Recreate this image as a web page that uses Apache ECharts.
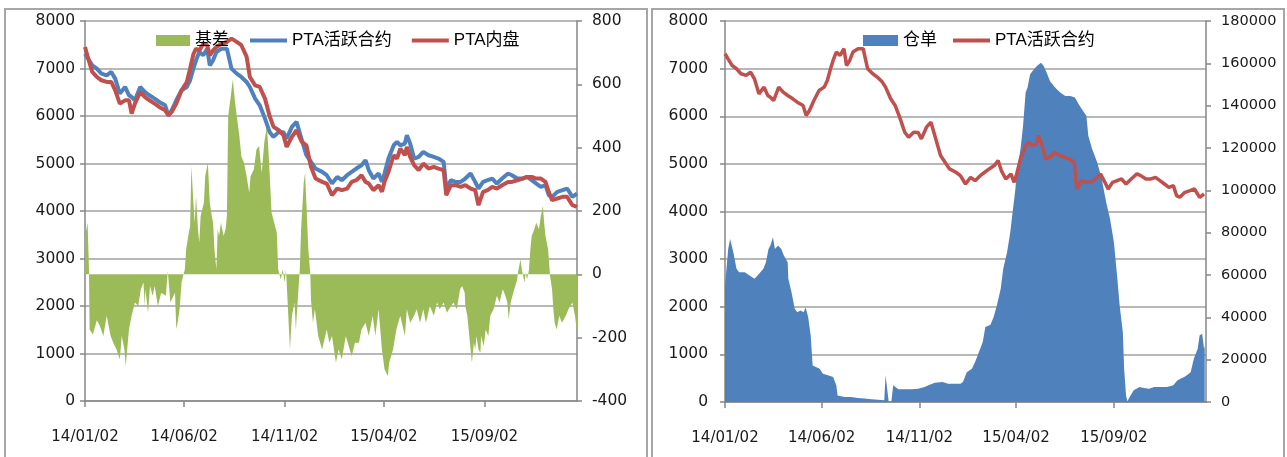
<!DOCTYPE html>
<html><head><meta charset="utf-8">
<script src="https://cdn.jsdelivr.net/npm/echarts@6/dist/echarts.min.js"></script>
<style>html,body{margin:0;padding:0;background:#fff}#c{width:1287px;height:457px}</style>
</head><body><div id="c"></div><script>
// ---------- data ----------
var tickDates = ['2014-01-02','2014-06-02','2014-11-02','2015-04-02','2015-09-02'];
var tickLabels = ['14/01/02','14/06/02','14/11/02','15/04/02','15/09/02'];

var priceDates = [
'2014-01-02','2014-01-07','2014-01-13','2014-01-20','2014-01-27','2014-02-04','2014-02-11','2014-02-17','2014-02-24','2014-03-04',
'2014-03-10','2014-03-14','2014-03-19','2014-03-27','2014-04-03','2014-04-10','2014-04-18','2014-04-25','2014-05-04','2014-05-09',
'2014-05-14','2014-05-21','2014-05-29','2014-06-06','2014-06-11','2014-06-16','2014-06-20','2014-06-25','2014-07-01','2014-07-07',
'2014-07-11','2014-07-16','2014-07-21','2014-07-29','2014-08-06','2014-08-13','2014-08-21','2014-08-28','2014-09-05',
'2014-09-10','2014-09-18','2014-09-25','2014-10-03','2014-10-10','2014-10-16','2014-10-24','2014-10-31','2014-11-05','2014-11-13',
'2014-11-20','2014-11-28','2014-12-05','2014-12-12','2014-12-19','2014-12-29','2015-01-05','2015-01-13','2015-01-21','2015-01-28',
'2015-02-05','2015-02-12','2015-02-19','2015-02-27','2015-03-05','2015-03-10','2015-03-17','2015-03-25','2015-03-30','2015-04-03',
'2015-04-09','2015-04-17','2015-04-22','2015-04-27','2015-05-04','2015-05-07','2015-05-12',
'2015-05-18','2015-05-25','2015-06-01','2015-06-09','2015-06-17','2015-06-24','2015-07-02','2015-07-06','2015-07-13','2015-07-20',
'2015-07-28','2015-08-04','2015-08-12','2015-08-19','2015-08-24','2015-08-31','2015-09-07','2015-09-14','2015-09-21','2015-09-29',
'2015-10-08','2015-10-14','2015-10-22','2015-10-30','2015-11-06','2015-11-13','2015-11-20','2015-11-27','2015-12-04','2015-12-09',
'2015-12-14','2015-12-22','2015-12-30','2016-01-06','2016-01-14','2016-01-21'];

// PTA活跃合约
var futuresValues = [
7312,7200,7067,6997,6892,6857,6927,6787,6471,6611,
6436,6400,6330,6611,6506,6436,6366,6296,6226,6015,
6120,6331,6541,6611,6752,6997,7172,7348,7277,7418,
7067,7172,7348,7418,7418,6997,6892,6822,6717,
6611,6366,6226,5945,5665,5560,5665,5660,5525,5770,
5875,5500,5174,5034,4894,4824,4753,4578,4718,4648,
4753,4824,4894,4964,5069,4859,4683,4789,4613,4789,
5104,5384,5455,5384,5420,5595,5420,
5104,5139,5244,5174,5139,5104,5034,4473,4648,4613,
4613,4683,4789,4613,4473,4613,4648,4683,4578,4683,
4789,4753,4683,4683,4718,4648,4578,4508,4543,4333,
4298,4403,4438,4473,4298,4368];

// PTA内盘
var spotValues = [
7453,7207,6927,6822,6752,6717,6717,6541,6261,6330,
6330,6050,6261,6500,6401,6331,6261,6191,6120,6015,
6085,6261,6541,6717,6997,7300,7418,7380,7523,7490,
7277,7383,7453,7523,7558,7628,7560,7490,7250,
6822,6646,6611,6366,6000,5770,5700,5600,5349,5560,
5700,5455,5384,4929,4683,4613,4578,4333,4473,4438,
4473,4613,4648,4753,4613,4578,4438,4543,4403,4613,
4824,5174,5104,5314,5174,5349,5139,
4964,4859,4999,4894,4929,4894,4859,4333,4543,4543,
4508,4543,4473,4438,4122,4403,4438,4508,4473,4543,
4613,4613,4648,4683,4718,4718,4683,4683,4613,4403,
4228,4263,4298,4298,4122,4087];

// 基差
var basisDates = [
'2014-01-02','2014-01-06','2014-01-08','2014-01-09','2014-01-14','2014-01-17','2014-01-20','2014-01-24','2014-01-30','2014-02-04',
'2014-02-10','2014-02-14','2014-02-19','2014-02-24','2014-02-27','2014-03-03','2014-03-05','2014-03-10','2014-03-14','2014-03-19',
'2014-03-24','2014-03-28','2014-04-01','2014-04-03','2014-04-04','2014-04-08','2014-04-11','2014-04-15','2014-04-18','2014-04-23',
'2014-04-28','2014-05-05','2014-05-08','2014-05-12','2014-05-14','2014-05-19','2014-05-21','2014-05-23','2014-05-26','2014-05-29',
'2014-06-03','2014-06-05','2014-06-09','2014-06-11','2014-06-13','2014-06-16','2014-06-18','2014-06-20','2014-06-23','2014-06-25',
'2014-06-27','2014-07-02','2014-07-04','2014-07-08','2014-07-11','2014-07-14','2014-07-16','2014-07-18','2014-07-21','2014-07-23',
'2014-07-25','2014-07-28','2014-08-01','2014-08-04','2014-08-06','2014-08-08','2014-08-12','2014-08-15','2014-08-18','2014-08-21',
'2014-08-25','2014-08-28','2014-09-01','2014-09-05','2014-09-09','2014-09-11','2014-09-16','2014-09-20','2014-09-24','2014-09-28',
'2014-10-02','2014-10-06','2014-10-09','2014-10-13','2014-10-17','2014-10-21','2014-10-23','2014-10-27','2014-10-30','2014-11-02',
'2014-11-04','2014-11-07','2014-11-10','2014-11-13','2014-11-17','2014-11-19','2014-11-21','2014-11-25','2014-11-27','2014-12-01',
'2014-12-03','2014-12-05','2014-12-08','2014-12-11','2014-12-12','2014-12-15','2014-12-18','2014-12-23','2014-12-29','2015-01-05',
'2015-01-09','2015-01-13','2015-01-19','2015-01-23','2015-01-28','2015-02-03','2015-02-09','2015-02-12','2015-02-17','2015-02-23',
'2015-02-27','2015-03-05','2015-03-10','2015-03-16','2015-03-20','2015-03-25','2015-03-30','2015-04-03','2015-04-08','2015-04-10',
'2015-04-16','2015-04-21','2015-04-27','2015-05-04','2015-05-07','2015-05-12','2015-05-18','2015-05-22','2015-05-27','2015-06-01',
'2015-06-05','2015-06-11','2015-06-17','2015-06-22','2015-06-26','2015-07-02','2015-07-07','2015-07-13','2015-07-17','2015-07-22',
'2015-07-27','2015-07-30','2015-08-03','2015-08-04','2015-08-07','2015-08-10','2015-08-12','2015-08-14','2015-08-17','2015-08-19',
'2015-08-21','2015-08-24','2015-08-27','2015-08-28','2015-09-01','2015-09-04','2015-09-08','2015-09-11','2015-09-16','2015-09-21',
'2015-09-25','2015-09-30','2015-10-04','2015-10-07','2015-10-09','2015-10-12','2015-10-16','2015-10-22','2015-10-23','2015-10-27',
'2015-10-29','2015-11-02','2015-11-04','2015-11-06','2015-11-09','2015-11-11','2015-11-13','2015-11-17','2015-11-20','2015-11-24',
'2015-11-27','2015-11-30','2015-12-02','2015-12-04','2015-12-08','2015-12-11','2015-12-14','2015-12-16','2015-12-18','2015-12-21',
'2015-12-25','2015-12-29','2016-01-04','2016-01-08','2016-01-14','2016-01-18','2016-01-21'];
var basisValues = [
120,163,20,-174,-190,-185,-145,-160,-195,-131,
-195,-216,-237,-268,-195,-237,-290,-173,-131,-89,
-100,-47,-26,-100,-47,-121,-37,-68,-37,-100,
-58,-68,10,-89,-89,-58,-173,-153,-110,-26,
16,79,131,152,342,226,163,247,142,100,
184,226,310,352,226,184,163,79,16,142,
121,163,121,142,184,500,563,615,552,500,
437,373,352,310,258,310,331,394,405,321,
418,468,363,195,163,131,16,-16,16,-26,
16,-110,-237,-131,-89,-174,-110,16,142,289,
321,226,79,0,-79,-153,-110,-195,-237,-174,
-216,-195,-279,-237,-268,-195,-237,-258,-216,-216,
-174,-153,-195,-131,-195,-110,-237,-300,-321,-279,
-237,-174,-131,-195,-110,-153,-131,-110,-153,-110,
-153,-100,-131,-89,-110,-89,-121,-100,-89,-110,
-47,-37,-58,-100,-131,-195,-237,-279,-216,-237,
-195,-237,-247,-195,-226,-174,-195,-131,-110,-68,
-89,-47,-68,-89,-142,-89,-58,-16,5,47,
16,-26,5,-16,16,79,121,142,163,142,
184,216,163,121,79,-5,-47,-110,-153,-174,
-131,-153,-131,-110,-89,-131,-184];

// 仓单
var receiptDates = [
'2014-01-02','2014-01-07','2014-01-10','2014-01-15','2014-01-20','2014-01-24','2014-02-02','2014-02-10','2014-02-17','2014-02-24',
'2014-03-03','2014-03-07','2014-03-11','2014-03-14','2014-03-18','2014-03-21','2014-03-26','2014-03-31','2014-04-04','2014-04-10',
'2014-04-11','2014-04-16','2014-04-21','2014-04-25','2014-04-30','2014-05-05','2014-05-08','2014-05-12','2014-05-16','2014-05-19',
'2014-05-22','2014-05-30','2014-06-04','2014-06-12','2014-06-20','2014-06-25','2014-06-27','2014-07-08','2014-07-18','2014-07-29',
'2014-08-08','2014-08-19','2014-08-29','2014-09-08','2014-09-10','2014-09-12','2014-09-15','2014-09-19','2014-09-22','2014-09-30',
'2014-10-10','2014-10-21','2014-10-31','2014-11-10','2014-11-18','2014-11-26','2014-12-08','2014-12-17','2014-12-29','2015-01-05',
'2015-01-09','2015-01-15','2015-01-23','2015-01-28','2015-02-03','2015-02-09','2015-02-13','2015-02-21','2015-02-26','2015-03-03',
'2015-03-09','2015-03-13','2015-03-19','2015-03-24','2015-03-27','2015-04-01','2015-04-03','2015-04-09','2015-04-13','2015-04-17',
'2015-04-20','2015-04-24','2015-04-30','2015-05-05','2015-05-11','2015-05-15','2015-05-20','2015-05-25','2015-06-02','2015-06-10',
'2015-06-18','2015-06-26','2015-07-03','2015-07-09','2015-07-14','2015-07-21','2015-07-24','2015-07-30','2015-08-07','2015-08-14',
'2015-08-21','2015-08-27','2015-09-02','2015-09-07','2015-09-11','2015-09-16','2015-09-18','2015-09-21','2015-09-23','2015-09-28',
'2015-10-03','2015-10-12','2015-10-19','2015-10-27','2015-11-04','2015-11-13','2015-11-24','2015-12-04','2015-12-10','2015-12-15',
'2015-12-21','2015-12-25','2015-12-31','2016-01-05','2016-01-11','2016-01-14','2016-01-18','2016-01-21','2016-01-22'];
var receiptValues = [
55000,72300,77000,70700,62900,61300,61300,59700,58200,60500,
62900,66000,72300,73900,77800,72300,73900,72300,69200,66000,
58200,51900,44000,42400,43200,42400,44800,40100,31400,17300,
16500,15700,13400,12600,11800,7900,3100,2400,2400,1900,
1600,1300,1100,800,12600,12600,0,0,7900,6000,
6000,6000,6300,7100,8200,9100,9400,8600,8600,8600,
9400,14100,15700,18900,23600,28300,35400,36500,40100,45600,
53400,62900,70700,80200,88000,100600,108500,119500,130500,146200,
148600,154800,157200,158800,160300,158800,155600,151700,148600,146200,
144600,144600,143800,140700,138300,135200,125800,119500,113200,105300,
94300,86500,75500,59700,45600,33000,15700,3100,300,3100,
5500,7100,6600,6300,7100,7100,7100,7900,10200,11000,
11800,12600,14100,20400,25200,31400,32200,25200,26700];

// ---------- chart ----------
function ts(s){ var p=s.split('-'); return new Date(+p[0], +p[1]-1, +p[2]).getTime(); }
function pairs(d, v){ return d.map(function(x,i){ return [ts(x), v[i]]; }); }
var tickTs = tickDates.map(ts);
function fmtTick(v){ var i = tickTs.indexOf(v); return i >= 0 ? tickLabels[i] : ''; }
function fmtNum(v){ return String(v); }

var NUMFONT = '"DejaVu Sans",sans-serif';
var FONT = '"Liberation Sans","Noto Sans CJK SC",sans-serif';
var AXC = '#868686';

function xAx(grid, maxDate){
  return { type:'value', gridIndex:grid, min:ts('2014-01-02'), max:ts(maxDate),
    axisLine:{show:true, onZero:false, lineStyle:{color:AXC, width:1.5}},
    axisTick:{show:true, customValues:tickTs, length:6, lineStyle:{color:AXC, width:1.5}},
    axisLabel:{customValues:tickTs, formatter:fmtTick, margin:29, color:'#1a1a1a', fontSize:15, fontFamily:NUMFONT},
    splitLine:{show:false} };
}
function yAx(grid, pos, min, max, step, split, margin, fs){
  return { type:'value', gridIndex:grid, position:pos, min:min, max:max, interval:step,
    axisLine:{show:true, lineStyle:{color:AXC, width:1.5}},
    axisTick:{show:true, length:5, lineStyle:{color:AXC, width:1.5}},
    axisLabel:{margin:margin, formatter:fmtNum, color:'#1a1a1a', fontSize:fs, fontFamily:NUMFONT},
    splitLine:{show:split, lineStyle:{color:'#a0a0a0', width:1.5}} };
}

var legendText = { color:'#000', fontSize:17, fontFamily:FONT };

var option = {
  animation:false,
  backgroundColor:'#fff',
  grid:[ {left:85, top:21, width:492, height:380}, {left:725, top:21, width:481, height:381} ],
  xAxis:[ xAx(0,'2016-01-21'), xAx(1,'2016-01-24') ],
  yAxis:[
    yAx(0,'left',0,8000,1000,true,10,15.5),
    yAx(0,'right',-400,800,200,false,15,15.5),
    yAx(1,'left',0,8000,1000,true,17,15.5),
    yAx(1,'right',0,180000,20000,false,15,14.5)
  ],
  legend:[
    {left:151, top:27, itemWidth:34, itemHeight:11, textStyle:legendText, data:[{name:'基差', icon:'rect'}]},
    {left:245, top:27, itemWidth:37, itemHeight:4, itemGap:20, textStyle:legendText,
      data:[{name:'PTA活跃合约', icon:'rect', itemStyle:{color:'#4F81BD'}}, {name:'PTA内盘', icon:'rect', itemStyle:{color:'#C0504D'}}]},
    {left:858, top:27, itemWidth:35, itemHeight:11, textStyle:legendText, data:[{name:'仓单', icon:'rect'}]},
    {left:948, top:27, itemWidth:37, itemHeight:4, textStyle:legendText, data:[{name:'PTA活跃合约', icon:'rect', itemStyle:{color:'#C0504D'}}]}
  ],
  series:[
    {name:'基差', type:'line', xAxisIndex:0, yAxisIndex:1, data:pairs(basisDates,basisValues), symbol:'none',
      lineStyle:{width:0, color:'#9BBB59'}, itemStyle:{color:'#9BBB59'}, areaStyle:{color:'#9BBB59', opacity:1}},
    {name:'PTA活跃合约', type:'line', xAxisIndex:0, yAxisIndex:0, data:pairs(priceDates,futuresValues), symbol:'none',
      lineStyle:{width:4, color:'#4F81BD'}, itemStyle:{color:'#4F81BD'}},
    {name:'PTA内盘', type:'line', xAxisIndex:0, yAxisIndex:0, data:pairs(priceDates,spotValues), symbol:'none',
      lineStyle:{width:4, color:'#C0504D'}, itemStyle:{color:'#C0504D'}},
    {name:'仓单', type:'line', xAxisIndex:1, yAxisIndex:3, data:pairs(receiptDates,receiptValues), symbol:'none',
      lineStyle:{width:0, color:'#4F81BD'}, itemStyle:{color:'#4F81BD'}, areaStyle:{color:'#4F81BD', opacity:1}},
    {name:'PTA活跃合约', type:'line', xAxisIndex:1, yAxisIndex:2, data:pairs(priceDates,futuresValues), symbol:'none',
      lineStyle:{width:3.5, color:'#C0504D'}, itemStyle:{color:'#C0504D'}}
  ],
  graphic:[
    {type:'rect', silent:true, shape:{x:5, y:9, width:642, height:470}, style:{fill:'none', stroke:'#a6a6a6', lineWidth:2}},
    {type:'rect', silent:true, shape:{x:652, y:9, width:632, height:470}, style:{fill:'none', stroke:'#a6a6a6', lineWidth:2}}
  ]
};
var chart = echarts.init(document.getElementById('c'), null, {renderer:'canvas'});
chart.setOption(option);
</script></body></html>
